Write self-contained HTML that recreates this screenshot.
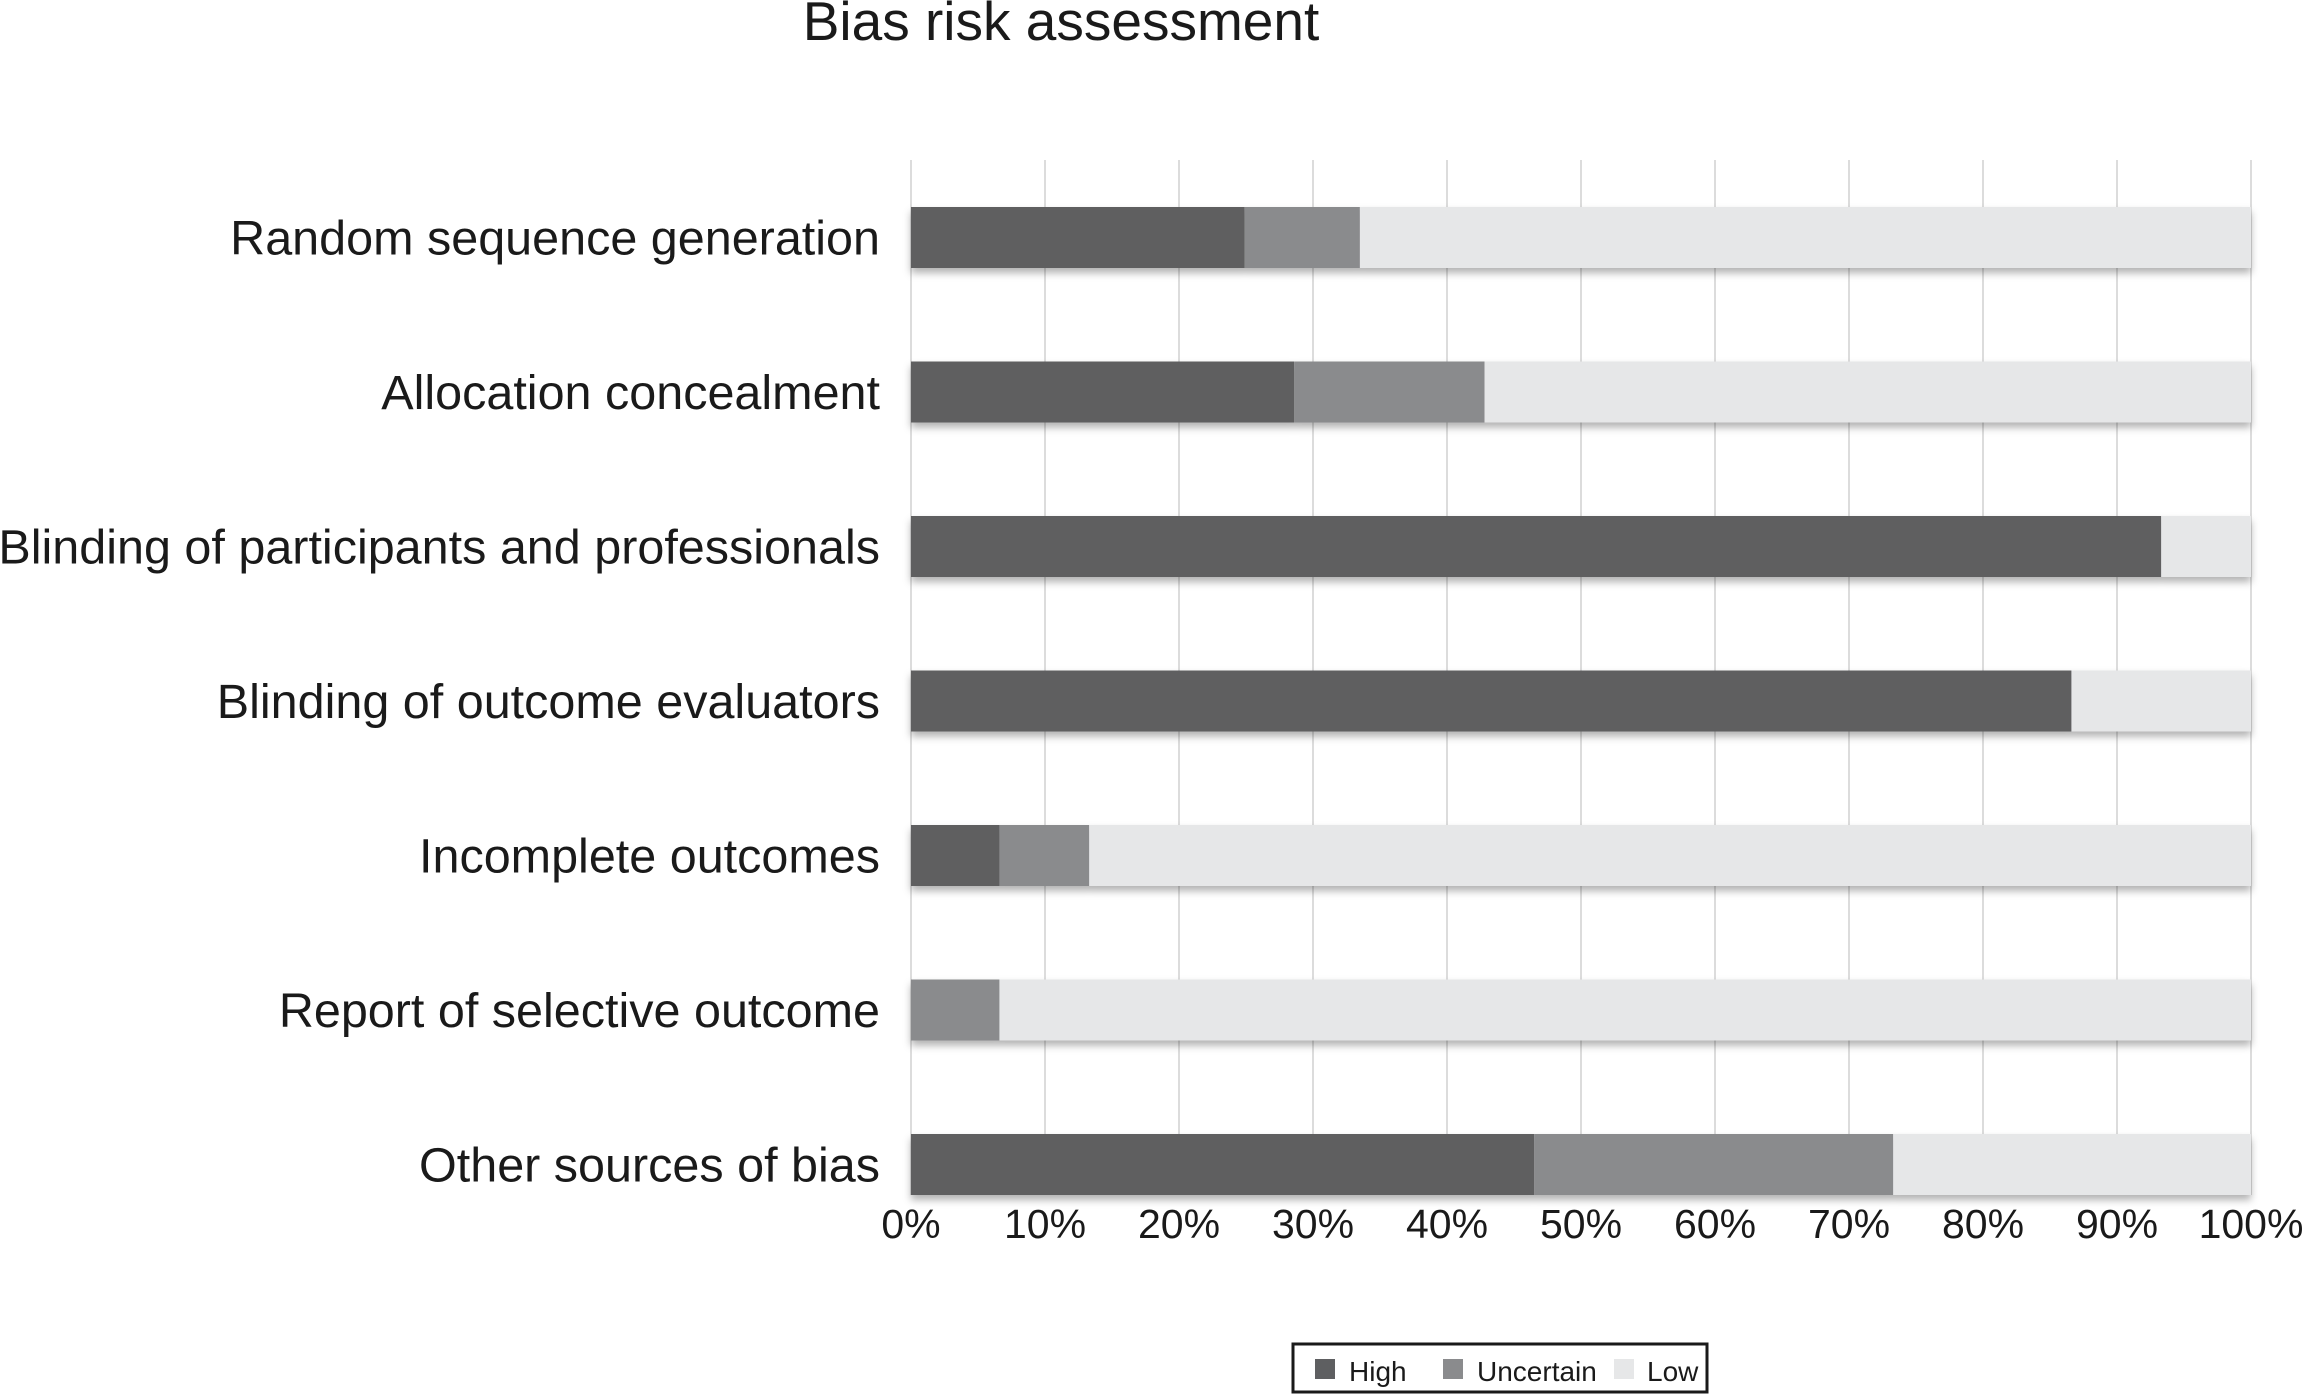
<!DOCTYPE html>
<html><head><meta charset="utf-8"><style>
html,body{margin:0;padding:0;background:#fff;}
svg text{font-family:"Liberation Sans",sans-serif;fill:#1a1a1a;}
</style></head><body>
<svg id="chart" width="2303" height="1395" viewBox="0 0 2303 1395" xmlns="http://www.w3.org/2000/svg">
<defs><filter id="sh" x="-5%" y="-20%" width="110%" height="160%"><feDropShadow dx="0" dy="5" stdDeviation="4" flood-color="#000" flood-opacity="0.3"/></filter></defs>
<text x="1061" y="40" font-size="55" text-anchor="middle">Bias risk assessment</text>
<g id="grid"></g><g id="bars"></g><g id="labels"></g><g id="ticks"></g>
<g>
<rect x="1293" y="1344" width="414" height="48" fill="#fff" stroke="#1a1a1a" stroke-width="3"/>
<rect x="1315" y="1359" width="20" height="20" fill="#5e5f61"/>
<text x="1349" y="1381" font-size="28">High</text>
<rect x="1443" y="1359" width="20" height="20" fill="#8a8b8d"/>
<text x="1477" y="1381" font-size="28">Uncertain</text>
<rect x="1614" y="1359" width="20" height="20" fill="#e6e7e8"/>
<text x="1647" y="1381" font-size="28">Low</text>
</g>
</svg>
<script>
const categories=["Random sequence generation","Allocation concealment","Blinding of participants and professionals","Blinding of outcome evaluators","Incomplete outcomes","Report of selective outcome","Other sources of bias"];
const highValues=[24.9,28.6,93.3,86.6,6.6,0,46.5];
const uncertainValues=[8.6,14.2,0,0,6.7,6.6,26.8];
const lowValues=[66.5,57.2,6.7,13.4,86.7,93.4,26.7];
const tickLabels=["0%","10%","20%","30%","40%","50%","60%","70%","80%","90%","100%"];
const tickValues=[0,10,20,30,40,50,60,70,80,90,100];
const NS="http://www.w3.org/2000/svg";
const X0=911,W=1340,Y0=207,STEP=154.5,BH=61;
const xs=v=>X0+v/100*W;
const ys=i=>Y0+i*STEP;
function mk(t,a,p){const e=document.createElementNS(NS,t);for(const k in a)e.setAttribute(k,a[k]);p.appendChild(e);return e;}
const grid=document.getElementById('grid'),bars=document.getElementById('bars'),labels=document.getElementById('labels'),ticks=document.getElementById('ticks');
tickValues.forEach((v,i)=>{
  const l=mk('line',{x1:xs(v),x2:xs(v),y1:160,y2:1195,stroke:'#dcdcdc','stroke-width':2},grid);
  
  
  const t=mk('text',{x:xs(v),y:1238,'font-size':41,'text-anchor':'middle'},ticks);
  t.textContent=tickLabels[i];
  
  
});
const series=[["high",highValues,"#5e5f61"],["uncertain",uncertainValues,"#8a8b8d"],["low",lowValues,"#e6e7e8"]];
categories.forEach((c,i)=>{
  const g=mk('g',{filter:'url(#sh)'},bars);
  
  
  let acc=0;
  series.forEach(s=>{
    const v=s[1][i];
    if(v>0){
      const r=mk('rect',{x:xs(acc),y:ys(i),width:xs(acc+v)-xs(acc),height:BH,fill:s[2]},g);
      
      
    }
    acc+=v;
  });
  const t=mk('text',{x:880,y:ys(i)+BH/2+17,'font-size':48.5,'text-anchor':'end'},labels);
  t.textContent=c;
  
  
});
</script>
</body></html>
